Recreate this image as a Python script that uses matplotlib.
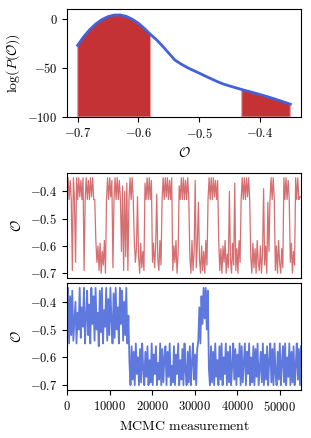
import matplotlib
matplotlib.use("Agg")
import matplotlib.pyplot as plt
from matplotlib.ticker import FuncFormatter
import numpy as np

plt.rcParams["mathtext.fontset"] = "cm"
plt.rcParams["font.size"] = 9
plt.rcParams["axes.labelsize"] = 10

# log-probability of the observable
obs = [-0.70, -0.69, -0.68, -0.67, -0.66, -0.65, -0.64, -0.63, -0.62, -0.61,
       -0.60, -0.59, -0.58, -0.57, -0.56, -0.55, -0.54, -0.53, -0.52, -0.51,
       -0.50, -0.49, -0.48, -0.47, -0.46, -0.45, -0.44, -0.43, -0.42, -0.41,
       -0.40, -0.39, -0.38, -0.37, -0.36, -0.35]
logp = [-27.0, -18.3, -11.0, -5.2, -0.8, 2.2, 3.8, 3.9, 2.5, -0.5,
        -4.5, -10.0, -16.0, -21.5, -28.0, -35.0, -42.0, -46.0, -49.5, -52.5,
        -55.3, -58.3, -61.2, -64.0, -66.5, -68.4, -70.2, -72.0, -73.7, -75.4,
        -77.1, -78.9, -80.8, -82.8, -84.9, -87.0]
left_cut = -0.58
right_cut = -0.43

trace_red = [
    -0.42, -0.35, -0.43, -0.36, -0.43, -0.69, -0.35, -0.43, -0.66, -0.35,
    -0.43, -0.35, -0.42, -0.36, -0.43, -0.35, -0.69, -0.43, -0.35, -0.43,
    -0.36, -0.43, -0.35, -0.42, -0.35, -0.43, -0.43, -0.58, -0.66, -0.60,
    -0.69, -0.59, -0.70, -0.62, -0.67, -0.58, -0.70, -0.43, -0.35, -0.43,
    -0.35, -0.42, -0.36, -0.68, -0.43, -0.35, -0.43, -0.35, -0.43, -0.36,
    -0.43, -0.62, -0.38, -0.69, -0.40, -0.64, -0.37, -0.69, -0.43, -0.35,
    -0.43, -0.35, -0.43, -0.58, -0.66, -0.61, -0.42, -0.64, -0.70, -0.59,
    -0.68, -0.62, -0.69, -0.37, -0.43, -0.35, -0.43, -0.35, -0.43, -0.36,
    -0.66, -0.59, -0.68, -0.60, -0.41, -0.65, -0.69, -0.58, -0.67, -0.43,
    -0.35, -0.43, -0.35, -0.42, -0.35, -0.43, -0.36, -0.43, -0.35, -0.69,
    -0.60, -0.66, -0.58, -0.70, -0.63, -0.38, -0.43, -0.35, -0.43, -0.35,
    -0.43, -0.36, -0.43, -0.35, -0.43, -0.64, -0.70, -0.58, -0.69, -0.62,
    -0.36, -0.68, -0.59, -0.44, -0.65, -0.70, -0.60, -0.69, -0.62, -0.70,
    -0.58, -0.67, -0.43, -0.35, -0.43, -0.35, -0.43, -0.35, -0.42, -0.36,
    -0.43, -0.36, -0.58, -0.69, -0.61, -0.70, -0.60, -0.66, -0.58, -0.70,
    -0.63, -0.68, -0.40, -0.65, -0.70, -0.59, -0.67, -0.37, -0.69, -0.61,
    -0.70, -0.58, -0.66, -0.43, -0.35, -0.43, -0.35, -0.43, -0.35, -0.42,
    -0.35, -0.43, -0.64, -0.70, -0.59, -0.68, -0.61, -0.70, -0.58, -0.66,
    -0.69, -0.60, -0.70, -0.63, -0.39, -0.67, -0.60, -0.70, -0.44, -0.62,
    -0.43, -0.35, -0.43, -0.35, -0.43, -0.69, -0.60, -0.70, -0.58, -0.66,
    -0.70, -0.61, -0.68, -0.35, -0.43, -0.35, -0.43, -0.36, -0.43, -0.66,
    -0.59, -0.70, -0.62, -0.67, -0.35, -0.43, -0.35, -0.43, -0.42, -0.42,
]
trace_blue = [
    -0.45, -0.35, -0.55, -0.38, -0.52, -0.36, -0.54, -0.47, -0.40, -0.55,
    -0.44, -0.50, -0.35, -0.53, -0.42, -0.49, -0.35, -0.55, -0.46, -0.36,
    -0.52, -0.41, -0.55, -0.35, -0.48, -0.38, -0.54, -0.35, -0.50, -0.44,
    -0.56, -0.36, -0.51, -0.35, -0.55, -0.43, -0.49, -0.35, -0.54, -0.39,
    -0.52, -0.35, -0.47, -0.55, -0.37, -0.53, -0.35, -0.50, -0.42, -0.55,
    -0.35, -0.48, -0.36, -0.54, -0.40, -0.52, -0.35, -0.55, -0.45,
    -0.62, -0.70, -0.56, -0.68, -0.58, -0.70, -0.55, -0.66, -0.60, -0.70,
    -0.57, -0.69, -0.55, -0.64, -0.70, -0.58, -0.67, -0.56, -0.70, -0.61,
    -0.69, -0.55, -0.70, -0.59, -0.66, -0.56, -0.70, -0.62, -0.68, -0.55,
    -0.70, -0.57, -0.69, -0.60, -0.56, -0.70, -0.58, -0.67, -0.55, -0.70,
    -0.63, -0.69, -0.56, -0.70, -0.59, -0.66, -0.55, -0.70, -0.61, -0.68,
    -0.57, -0.70, -0.55, -0.65, -0.70, -0.58, -0.69, -0.56, -0.70, -0.62,
    -0.55, -0.68, -0.59, -0.70, -0.57,
    -0.54, -0.42, -0.55, -0.38, -0.48, -0.35, -0.46, -0.35, -0.50, -0.36,
    -0.64, -0.70, -0.56, -0.69, -0.58, -0.70, -0.55, -0.67, -0.61, -0.70,
    -0.56, -0.68, -0.55, -0.70, -0.60, -0.66, -0.55, -0.70, -0.58, -0.69,
    -0.56, -0.70, -0.63, -0.55, -0.68, -0.57, -0.70, -0.59, -0.67, -0.55,
    -0.70, -0.56, -0.69, -0.62, -0.55, -0.70, -0.58, -0.66, -0.55, -0.70,
    -0.60, -0.69, -0.56, -0.70, -0.57, -0.67, -0.55, -0.70, -0.64, -0.58,
    -0.69, -0.55, -0.70, -0.59, -0.68, -0.56, -0.70, -0.61, -0.55, -0.69,
    -0.57, -0.70, -0.55, -0.66, -0.70, -0.58, -0.68, -0.55, -0.70, -0.62,
    -0.56, -0.69, -0.55, -0.70, -0.60, -0.67, -0.55, -0.70, -0.58, -0.69,
    -0.56, -0.70, -0.63, -0.55, -0.68, -0.57, -0.70, -0.56,
]
n_meas = 55000

red = "#c43236"
blue = "#4361d8"


def math_fmt(v, pos):
    return f"${v:g}$"


fig = plt.figure(figsize=(3.11, 4.38), dpi=100)
ax1 = fig.add_axes([0.2154, 0.7329, 0.7524, 0.2466])
ax2 = fig.add_axes([0.2154, 0.3653, 0.7524, 0.2398])
ax3 = fig.add_axes([0.2154, 0.1096, 0.7524, 0.2443])

# top: log P with the sampled windows shaded
x = np.array(obs)
y = np.array(logp)
mask = (x <= left_cut + 1e-9) | (x >= right_cut - 1e-9)
ax1.fill_between(x, -100, y, where=mask, color=red, linewidth=0.8,
                 edgecolor="#e8a0a2")
ax1.plot(x, y, color=blue, linewidth=2)
ax1.set_ylim(-100, 10)
ax1.set_xticks([-0.7, -0.6, -0.5, -0.4])
ax1.set_yticks([0, -50, -100])
ax1.set_xlabel(r"$\mathcal{O}$")
ax1.set_ylabel(r"$\log(P(\mathcal{O}))$")

# middle: restricted trace
t_red = np.linspace(0, n_meas, len(trace_red))
ax2.plot(t_red, trace_red, color=red, linewidth=0.9, alpha=0.7)
ax2.set_xlim(0, n_meas)
ax2.set_yticks([-0.4, -0.5, -0.6, -0.7])
ax2.tick_params(axis="x", bottom=False, labelbottom=False)
ax2.set_ylabel(r"$\mathcal{O}$")

# bottom: unrestricted trace
t_blue = np.linspace(0, n_meas, len(trace_blue))
ax3.plot(t_blue, trace_blue, color=blue, linewidth=1.3, alpha=0.85)
ax3.set_xlim(0, n_meas)
ax3.set_xticks([0, 10000, 20000, 30000, 40000, 50000])
ax3.set_yticks([-0.4, -0.5, -0.6, -0.7])
ax3.set_ylabel(r"$\mathcal{O}$")
ax3.set_xlabel(r"$\mathrm{MCMC\ measurement}$")

for ax in (ax1, ax2, ax3):
    ax.xaxis.set_major_formatter(FuncFormatter(math_fmt))
    ax.yaxis.set_major_formatter(FuncFormatter(math_fmt))

fig.savefig("out.png", dpi=100)
